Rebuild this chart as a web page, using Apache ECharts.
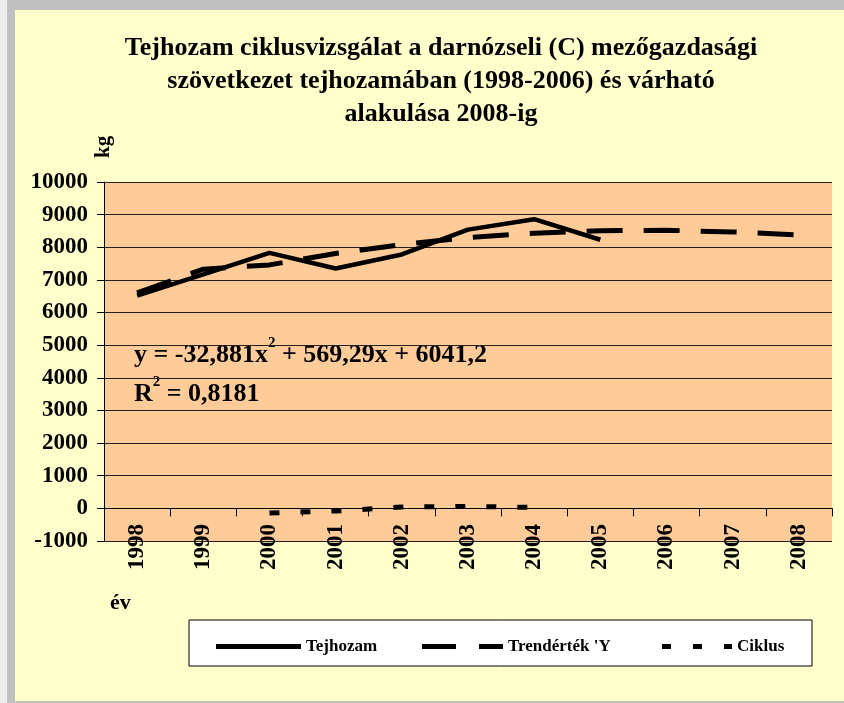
<!DOCTYPE html>
<html lang="hu">
<head>
    <meta charset="UTF-8">
    <title>Tejhozam ciklusvizsgálat</title>
    <script src="https://cdn.jsdelivr.net/npm/echarts@6/dist/echarts.min.js"></script>
    <style>
        html, body { margin: 0; padding: 0; background: #fff; }
    </style>
</head>
<body>
<div id="main" style="width: 844px;height:703px;"></div>
<script type="text/javascript">
    // evek (kategoriak)
    var years = ['1998', '1999', '2000', '2001', '2002', '2003', '2004', '2005', '2006', '2007', '2008'];
    // tenyleges tejhozam, kg
    var tejhozam = [6520, 7170, 7830, 7350, 7780, 8540, 8860, 8230];
    // trendertek (masodfoku trend)
    var trend = [6600, 7330, 7460, 7810, 8080, 8300, 8430, 8510, 8520, 8470, 8380];
    // ciklus komponens
    var ciklus = [null, null, -140, -80, 40, 60, 30];

    var FONT = 'Liberation Serif';
    var myChart = echarts.init(document.getElementById('main'));

    var legendText = {fontFamily: FONT, fontWeight: 'bold', fontSize: 17, color: '#000'};

    var option = {
        backgroundColor: '#c0c0c0',
        animation: false,
        title: {
            text: 'Tejhozam ciklusvizsgálat a darnózseli (C) mezőgazdasági\nszövetkezet tejhozamában (1998-2006) és várható\nalakulása 2008-ig',
            left: 436,
            top: 27,
            textAlign: 'center',
            textStyle: {
                fontFamily: FONT,
                fontWeight: 'bold',
                fontSize: 26,
                lineHeight: 33,
                color: '#000'
            }
        },
        graphic: [
            {type: 'rect', z: -10, shape: {x: 0, y: 0, width: 7, height: 703}, style: {fill: '#ececec'}},
            {type: 'rect', z: -10, shape: {x: 15, y: 10, width: 829, height: 691}, style: {fill: '#ffffcc'}},
            {type: 'rect', z: -10, shape: {x: 189, y: 620, width: 623, height: 46},
                style: {fill: '#fff', stroke: '#000', lineWidth: 1}},
            {type: 'text', left: 110, top: 592, style: {
                text: 'év', fontFamily: FONT, fontWeight: 'bold', fontSize: 22, fill: '#000'}},
            {type: 'text', left: 134, top: 336, style: {
                text: '{t|y = -32,881x}{s|2}{t| + 569,29x + 6041,2}\n{t|R}{s|2}{t| = 0,8181}',
                rich: {
                    t: {fontFamily: FONT, fontWeight: 'bold', fontSize: 26, lineHeight: 39, fill: '#000'},
                    s: {fontFamily: FONT, fontWeight: 'bold', fontSize: 15, lineHeight: 39,
                        verticalAlign: 'top', padding: [0, 0, 14, 0], fill: '#000'}
                }
            }}
        ],
        legend: [
            {
                left: 211, top: 633, itemWidth: 85, itemHeight: 5, textStyle: legendText,
                data: [{name: 'Tejhozam', icon: 'path://M0,0H85V5H0Z'}]
            },
            {
                left: 417, top: 633, itemWidth: 81, itemHeight: 5, textStyle: legendText,
                data: [{name: 'Trendérték \'Y', icon: 'path://M0,0H34V5H0Z M57,0H81V5H57Z'}]
            },
            {
                left: 657, top: 633, itemWidth: 70, itemHeight: 5, textStyle: legendText,
                data: [{name: 'Ciklus', icon: 'path://M0,0H9V5H0Z M31,0H40V5H31Z M62,0H70V5H62Z'}]
            }
        ],
        grid: {
            left: 104,
            right: 12,
            top: 182,
            bottom: 162,
            show: true,
            backgroundColor: '#ffcc99',
            borderWidth: 0
        },
        xAxis: {
            type: 'category',
            data: years,
            boundaryGap: true,
            axisLine: {onZero: true, lineStyle: {color: '#000', width: 1}},
            axisTick: {show: true, length: 8, lineStyle: {color: '#000'}},
            axisLabel: {
                rotate: 90,
                margin: -17,
                fontFamily: FONT,
                fontWeight: 'bold',
                fontSize: 23,
                color: '#000'
            },
            splitLine: {show: false}
        },
        yAxis: {
            type: 'value',
            min: -1000,
            max: 10000,
            interval: 1000,
            name: 'kg',
            nameLocation: 'end',
            nameRotate: 90,
            nameGap: 24,
            nameTextStyle: {fontFamily: FONT, fontWeight: 'bold', fontSize: 21, color: '#000'},
            axisLine: {show: true, lineStyle: {color: '#000'}},
            axisTick: {show: true, length: 7, lineStyle: {color: '#000'}},
            axisLabel: {
                margin: 16,
                fontFamily: FONT,
                fontWeight: 'bold',
                fontSize: 23,
                color: '#000',
                formatter: function (v) { return String(v); }
            },
            splitLine: {show: true, lineStyle: {color: '#222', width: 1}}
        },
        series: [
            {
                name: 'Tejhozam',
                type: 'line',
                data: tejhozam,
                symbol: 'none',
                color: '#000',
                lineStyle: {color: '#000', width: 4.5, type: 'solid'}
            },
            {
                name: 'Trendérték \'Y',
                type: 'line',
                data: trend,
                symbol: 'none',
                color: '#000',
                lineStyle: {color: '#000', width: 5, type: [36, 21], cap: 'butt'}
            },
            {
                name: 'Ciklus',
                type: 'line',
                data: ciklus,
                symbol: 'none',
                color: '#000',
                lineStyle: {color: '#000', width: 5, type: [10, 21], cap: 'butt'}
            }
        ]
    };
    myChart.setOption(option);
</script>
</body>
</html>
